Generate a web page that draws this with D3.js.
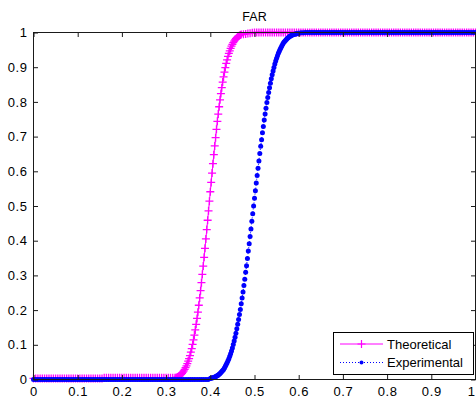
<!DOCTYPE html>
<html>
<head>
<meta charset="utf-8">
<script src="https://cdn.jsdelivr.net/npm/d3@7"></script>
<style>
  html, body { margin: 0; padding: 0; background: #fff; }
  svg { display: block; }
  text { font-family: "Liberation Sans", Arial, sans-serif; fill: #000; }
</style>
</head>
<body>
<svg id="chart" width="476" height="398"></svg>
<script>
// ---------------- data ----------------
const chartTitle = "FAR";
const seriesNames = ["Theoretical", "Experimental"];
const xTickValues = [0, 0.1, 0.2, 0.3, 0.4, 0.5, 0.6, 0.7, 0.8, 0.9, 1];
const xTickLabels = ["0", "0.1", "0.2", "0.3", "0.4", "0.5", "0.6", "0.7", "0.8", "0.9", "1"];
const yTickValues = [0, 0.1, 0.2, 0.3, 0.4, 0.5, 0.6, 0.7, 0.8, 0.9, 1];
const yTickLabels = ["0", "0.1", "0.2", "0.3", "0.4", "0.5", "0.6", "0.7", "0.8", "0.9", "1"];

// Theoretical (magenta, solid line, + markers)
const theoX = [
  0,.005,.01,.015,.02,.025,.03,.035,.04,.045,.05,.055,.06,.065,.07,.075,.08,.085,.09,.095,
  .10,.105,.11,.115,.12,.125,.13,.135,.14,.145,.15,.155,.16,.165,.17,.175,.18,.185,.19,.195,
  .20,.205,.21,.215,.22,.225,.23,.235,.24,.245,.25,.255,.26,.265,.27,.275,.28,.285,.29,.295,
  .30,.305,.31,.315,
  .320,.322,.324,.326,.328,.330,.332,.334,.336,.338,.340,.342,.344,.346,.348,.350,
  .352,.354,.356,.358,.360,.362,.364,.366,.368,.370,.372,.374,.376,.378,.380,.382,
  .384,.386,.388,.390,.392,.394,.396,.398,.400,.402,.404,.406,.408,.410,.412,.414,
  .416,.418,.420,.422,.424,.426,.428,.430,.432,.434,.436,.438,.440,.442,.444,.446,
  .448,.450,.452,.454,.456,.458,.460,.462,.464,.466,.468,.470,
  .475,.48,.485,.49,.495,
  .50,.505,.51,.515,.52,.525,.53,.535,.54,.545,.55,.555,.56,.565,.57,.575,.58,.585,.59,.595,
  .60,.605,.61,.615,.62,.625,.63,.635,.64,.645,.65,.655,.66,.665,.67,.675,.68,.685,.69,.695,
  .70,.705,.71,.715,.72,.725,.73,.735,.74,.745,.75,.755,.76,.765,.77,.775,.78,.785,.79,.795,
  .80,.805,.81,.815,.82,.825,.83,.835,.84,.845,.85,.855,.86,.865,.87,.875,.88,.885,.89,.895,
  .90,.905,.91,.915,.92,.925,.93,.935,.94,.945,.95,.955,.96,.965,.97,.975,.98,.985,.99,.995,
  1.00
];
const theoY = [
  .003,.003,.003,.003,.003,.003,.003,.003,.003,.003,.003,.003,.003,.003,.003,.003,.003,.003,.003,.003,
  .003,.003,.003,.003,.003,.003,.003,.003,.003,.003,.003,.003,.005,.005,.005,.005,.005,.005,.005,.005,
  .005,.005,.005,.005,.005,.005,.005,.005,.005,.005,.005,.005,.005,.005,.005,.005,.005,.005,.005,.005,
  .005,.005,.005,.005,
  .005,.005,.006,.007,.009,.010,.0125,.015,.018,.021,.025,.029,.034,.039,.046,.053,
  .060,.069,.079,.089,.101,.114,.128,.143,.159,.176,.194,.214,.235,.256,.279,.303,
  .327,.352,.378,.405,.432,.459,.486,.514,.541,.568,.595,.622,.648,.673,.697,.721,
  .744,.765,.786,.806,.824,.841,.857,.872,.886,.899,.911,.921,.931,.940,.947,.954,
  .961,.966,.971,.975,.979,.982,.985,.988,.990,.991,.993,.994,
  .995,.996,.997,.998,.999,
  1,1,1,1,1,1,1,1,1,1,1,1,1,1,1,1,1,1,1,1,
  1,1,1,1,1,1,1,1,1,1,1,1,1,1,1,1,1,1,1,1,
  1,1,1,1,1,1,1,1,1,1,1,1,1,1,1,1,1,1,1,1,
  1,1,1,1,1,1,1,1,1,1,1,1,1,1,1,1,1,1,1,1,
  1,1,1,1,1,1,1,1,1,1,1,1,1,1,1,1,1,1,1,1,
  1
];

// Experimental (blue, dotted line, . markers)
const expX = [
  0,.005,.01,.015,.02,.025,.03,.035,.04,.045,.05,.055,.06,.065,.07,.075,.08,.085,.09,.095,
  .10,.105,.11,.115,.12,.125,.13,.135,.14,.145,.15,.155,.16,.165,.17,.175,.18,.185,.19,.195,
  .20,.205,.21,.215,.22,.225,.23,.235,.24,.245,.25,.255,.26,.265,.27,.275,.28,.285,.29,.295,
  .30,.305,.31,.315,.32,.325,.33,.335,.34,.345,.35,.355,.36,.365,.37,.375,.38,.385,.39,.395,
  .400,.402,.404,.406,.408,.410,.412,.414,.416,.418,
  .420,.422,.424,.426,.428,.430,.432,.434,.436,.438,
  .440,.442,.444,.446,.448,.450,.452,.454,.456,.458,
  .460,.462,.464,.466,.468,.470,.472,.474,.476,.478,
  .480,.482,.484,.486,.488,.490,.492,.494,.496,.498,
  .500,.502,.504,.506,.508,.510,.512,.514,.516,.518,
  .520,.522,.524,.526,.528,.530,.532,.534,.536,.538,
  .540,.542,.544,.546,.548,.550,.552,.554,.556,.558,
  .560,.562,.564,.566,.568,.570,.572,.574,.576,.578,
  .580,.582,.584,.586,.588,.590,.592,.594,.596,.598,
  .600,
  .605,.61,.615,.62,.625,.63,.635,.64,.645,.65,.655,.66,.665,.67,.675,.68,.685,.69,.695,
  .70,.705,.71,.715,.72,.725,.73,.735,.74,.745,.75,.755,.76,.765,.77,.775,.78,.785,.79,.795,
  .80,.805,.81,.815,.82,.825,.83,.835,.84,.845,.85,.855,.86,.865,.87,.875,.88,.885,.89,.895,
  .90,.905,.91,.915,.92,.925,.93,.935,.94,.945,.95,.955,.96,.965,.97,.975,.98,.985,.99,.995,
  1.00
];
const expY = [
  0,0,0,0,0,0,0,0,0,0,0,0,0,0,0,0,0,0,0,0,
  0,0,0,0,0,0,0,0,0,0,0,0,0,0,0,0,0,0,0,0,
  0,0,0,0,0,0,0,0,0,0,0,0,0,0,0,0,0,0,0,0,
  0,0,0,0,0,0,0,0,0,0,0,0,0,0,0,0,0,0,0,0,
  .003,.004,.0045,.005,.006,.007,.008,.010,.011,.013,
  .015,.017,.020,.023,.026,.029,.033,.038,.043,.048,
  .054,.060,.067,.074,.082,.091,.101,.111,.122,.133,
  .146,.159,.173,.187,.202,.218,.235,.252,.271,.289,
  .309,.328,.349,.370,.391,.412,.434,.456,.478,.500,
  .522,.544,.566,.588,.609,.630,.651,.672,.691,.711,
  .729,.748,.765,.782,.798,.813,.827,.841,.854,.867,
  .878,.889,.899,.909,.918,.926,.933,.940,.946,.952,
  .957,.962,.967,.971,.974,.977,.980,.983,.985,.987,
  .989,.990,.992,.993,.994,.995,.996,.996,.997,.998,
  .998,
  .999,.999,1,1,1,1,1,1,1,1,1,1,1,1,1,1,1,1,1,
  1,1,1,1,1,1,1,1,1,1,1,1,1,1,1,1,1,1,1,1,
  1,1,1,1,1,1,1,1,1,1,1,1,1,1,1,1,1,1,1,1,
  1,1,1,1,1,1,1,1,1,1,1,1,1,1,1,1,1,1,1,1,
  1
];

// ---------------- drawing ----------------
const W = 476, H = 398;
const plot = { left: 33.5, right: 475.5, top: 32.5, bottom: 379.5 };

const svg = d3.select("#chart");
svg.append("rect").attr("width", W).attr("height", H).attr("fill", "#fff");

const x = d3.scaleLinear().domain([0, 1]).range([plot.left, plot.right]);
const y = d3.scaleLinear().domain([0, 1]).range([plot.bottom, plot.top]);

function zip(xs, ys) {
  if (xs.length !== ys.length) console.warn("length mismatch", xs.length, ys.length);
  const n = Math.min(xs.length, ys.length);
  return d3.range(n).map(i => ({ x: xs[i], y: ys[i] }));
}
const theo = zip(theoX, theoY);
const expd = zip(expX, expY);

const line = d3.line().x(d => x(d.x)).y(d => y(d.y));

const magenta = "#ff00ff", blue = "#0000ff";
const plusPath = "M-4,0H4M0,-4V4";

// Theoretical
const gT = svg.append("g");
gT.append("path").datum(theo).attr("d", line)
  .attr("fill", "none").attr("stroke", magenta).attr("stroke-width", 1);
gT.selectAll("path.mk").data(theo).join("path").attr("class", "mk")
  .attr("d", plusPath)
  .attr("transform", d => `translate(${x(d.x)},${y(d.y)})`)
  .attr("fill", "none").attr("stroke", magenta).attr("stroke-width", 1.3);

// Experimental
const gE = svg.append("g");
gE.append("path").datum(expd).attr("d", line)
  .attr("fill", "none").attr("stroke", blue).attr("stroke-width", 1)
  .attr("stroke-dasharray", "1,2");
gE.selectAll("circle").data(expd).join("circle")
  .attr("cx", d => x(d.x)).attr("cy", d => y(d.y)).attr("r", 2.5)
  .attr("fill", blue);

// Axes box
const axisColor = "#1a1a1a";
svg.append("rect")
  .attr("x", plot.left).attr("y", plot.top)
  .attr("width", plot.right - plot.left).attr("height", plot.bottom - plot.top)
  .attr("fill", "none").attr("stroke", axisColor).attr("stroke-width", 1);

// Ticks (inside, mirrored) using d3 axes
const tickLen = 4.5;
const xAxisB = d3.axisBottom(x).tickValues(xTickValues)
  .tickFormat((d, i) => xTickLabels[i]).tickSizeInner(-tickLen).tickSizeOuter(0).tickPadding(7);
const xAxisT = d3.axisTop(x).tickValues(xTickValues)
  .tickFormat("").tickSizeInner(-tickLen).tickSizeOuter(0);
const yAxisL = d3.axisLeft(y).tickValues(yTickValues)
  .tickFormat((d, i) => yTickLabels[i]).tickSizeInner(-tickLen).tickSizeOuter(0).tickPadding(6);
const yAxisR = d3.axisRight(y).tickValues(yTickValues)
  .tickFormat("").tickSizeInner(-tickLen).tickSizeOuter(0);

function styleAxis(g) {
  g.select(".domain").remove();
  g.selectAll(".tick line").attr("stroke", axisColor);
  g.selectAll(".tick text").attr("fill", "#000")
    .style("font-family", '"Liberation Sans", Arial, sans-serif')
    .style("font-size", "13px").style("letter-spacing", "0.6px");
}
const gxB = svg.append("g").attr("transform", `translate(0,${plot.bottom})`).call(xAxisB).call(styleAxis);
// keep the last x label ("1") inside the window, as in the reference where it sits at the edge
gxB.selectAll(".tick text").filter((d, i) => i === xTickValues.length - 1)
  .attr("text-anchor", "end").attr("dx", "-0.5px");
svg.append("g").attr("transform", `translate(0,${plot.top})`).call(xAxisT).call(styleAxis);
svg.append("g").attr("transform", `translate(${plot.left},0)`).call(yAxisL).call(styleAxis);
svg.append("g").attr("transform", `translate(${plot.right},0)`).call(yAxisR).call(styleAxis);

// Title
svg.append("text").attr("x", (plot.left + plot.right) / 2).attr("y", 21)
  .attr("text-anchor", "middle").style("font-size", "12.5px").text(chartTitle);

// Legend
const lg = svg.append("g");
lg.append("rect").attr("x", 333.5).attr("y", 332.5).attr("width", 140).attr("height", 42)
  .attr("fill", "#fff").attr("stroke", "#000").attr("stroke-width", 1);
const rowsY = [344, 362.5];
// Theoretical row
lg.append("line").attr("x1", 340).attr("x2", 383).attr("y1", rowsY[0]).attr("y2", rowsY[0])
  .attr("stroke", magenta).attr("stroke-width", 1);
lg.append("path").attr("d", plusPath).attr("transform", `translate(361.5,${rowsY[0]})`)
  .attr("fill", "none").attr("stroke", magenta).attr("stroke-width", 1.2);
// Experimental row
lg.append("line").attr("x1", 340).attr("x2", 383).attr("y1", rowsY[1]).attr("y2", rowsY[1])
  .attr("stroke", blue).attr("stroke-width", 1).attr("stroke-dasharray", "1,2");
lg.append("circle").attr("cx", 361.5).attr("cy", rowsY[1]).attr("r", 2).attr("fill", blue);
seriesNames.forEach((name, i) => {
  lg.append("text").attr("x", 387).attr("y", rowsY[i] + 4.5)
    .style("font-size", "13px").text(name);
});
</script>
</body>
</html>
